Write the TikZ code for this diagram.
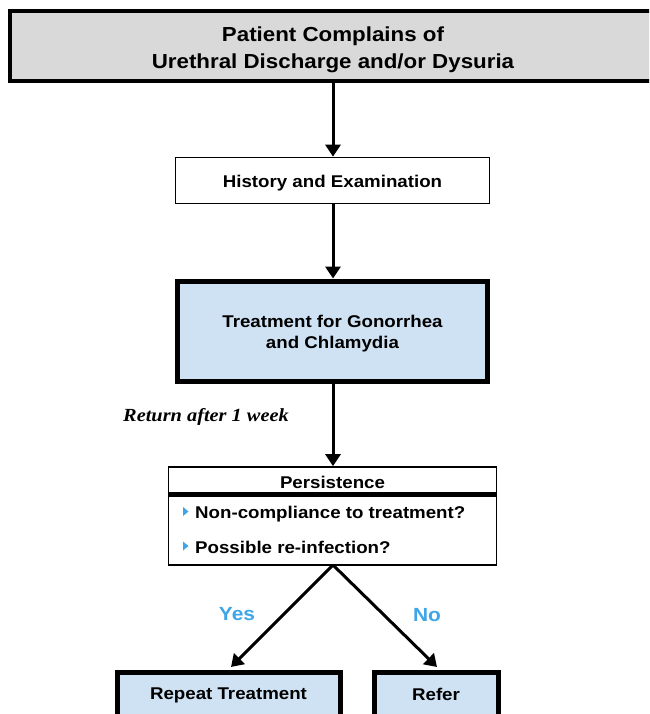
\documentclass[tikz,border=0pt]{standalone}
\usepackage{fontspec}
\setmainfont[FakeStretch=1.1]{Liberation Sans}
\newfontfamily\serifbi[FakeStretch=1.1]{Liberation Serif}
\usetikzlibrary{arrows.meta}
\definecolor{topgray}{HTML}{D9D9D9}
\definecolor{boxblue}{HTML}{CFE2F3}
\definecolor{labblue}{HTML}{3DA5E8}
\tikzset{
  conn/.style={line width=3pt, -{Triangle[width=15pt,length=12pt]}},
  thinbox/.style={draw, line width=1.6pt, fill=white, inner sep=0pt},
  bluebox/.style={draw, line width=5pt, fill=boxblue, inner sep=0pt},
  lab/.style={font=\bfseries\fontsize{17}{21}\selectfont, inner sep=0pt, align=center},
  yn/.style={text=labblue, font=\bfseries\fontsize{19}{21}\selectfont},
  bul/.style={fill=labblue, draw=none},
}
\begin{document}
\begin{tikzpicture}[x=1pt,y=-1pt]
\clip (0,0) rectangle (649,714);
\fill[white] (0,0) rectangle (649,714);
% top box
\node[draw, line width=4pt, fill=topgray, minimum width=652pt, minimum height=70pt, inner sep=0pt] (top) at (336,46) {};
\node[font=\bfseries\fontsize{20.3}{27}\selectfont, align=center, inner sep=0pt] (toptext) at (333,50)
  {Patient Complains of\\Urethral Discharge and/or Dysuria};
% history
\node[thinbox, minimum width=314pt, minimum height=46pt] (hist) at (332.5,180.5) {};
\node[lab] (histt) at (332.5,183) {History and Examination};
% treatment
\node[bluebox, minimum width=310pt, minimum height=100pt] (treat) at (332.5,331) {};
\node[lab] (treatt) at (332.5,334) {Treatment for Gonorrhea\\and Chlamydia};
% return label
\node[font=\serifbi\bfseries\itshape\fontsize{18.5}{20}\selectfont, anchor=west, inner sep=0pt] (ret) at (123,417) {Return after 1 week};
% persistence box
\node[draw, line width=1.6pt, fill=white, minimum width=328pt, minimum height=98pt, inner sep=0pt] (pers) at (332.5,516) {};
\draw[line width=4.5pt] (pers.west |- 0,494.5) -- (pers.east |- 0,494.5);
\node[lab] (ph) at (332.5,482) {Persistence};
\fill[bul] (183,507) -- (188.5,511.5) -- (183,516) -- cycle;
\fill[bul] (183,541.5) -- (188.5,546) -- (183,550.5) -- cycle;
\node[lab, anchor=west] (b1) at (195,514) {Non-compliance to treatment?};
\node[lab, anchor=west] (b2) at (195,547.5) {Possible re-infection?};
% bottom boxes
\node[bluebox, minimum width=223pt, minimum height=60pt, anchor=north] (rep) at (228.5,670) {};
\node[lab] (rept) at (228.5,695.5) {Repeat Treatment};
\node[bluebox, minimum width=124pt, minimum height=60pt, anchor=north] (ref) at (436,670) {};
\node[lab] (reft) at (436,694.5) {Refer};
% connectors
\coordinate (pb) at (333,565);
\coordinate (ya) at (231,667);
\coordinate (na) at (437,667);
\draw[conn] (top.south -| 333,0) -- (hist.north -| 333,0);
\draw[conn] (hist.south -| 333,0) -- (treat.north -| 333,0);
\draw[conn] (treat.south -| 333,0) -- (pers.north -| 333,0);
\draw[conn] (pb) -- (ya);
\draw[conn] (pb) -- (na);
\node[yn] (yes) at (237,614) {Yes};
\node[yn] (no) at (427,615) {No};
\end{tikzpicture}
\end{document}
